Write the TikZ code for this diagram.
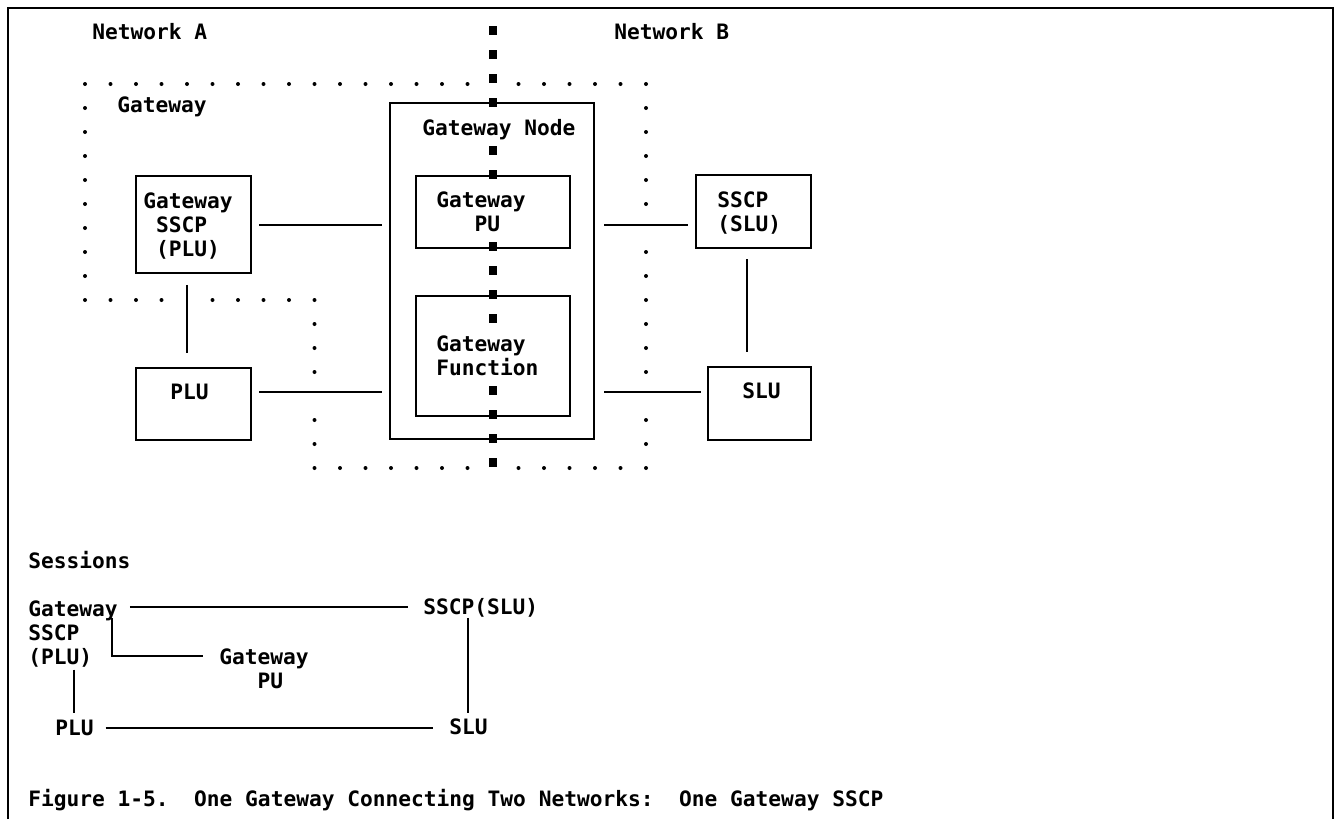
\documentclass[tikz,border=0pt]{standalone}
\usepackage{fontspec}
\setmainfont{DejaVu Sans Mono}
\usepackage{tikz}
\usetikzlibrary{positioning,fit}
\frenchspacing

\begin{document}
\begin{tikzpicture}[x=0.75pt,y=-0.75pt, every node/.style={font=\bfseries\fontsize{15.9}{18}\selectfont,inner sep=0pt},
    box/.style={draw,line width=1.8pt},
    lbl/.style={anchor=west,text height=11.25pt,text depth=0pt},
    blk/.style={anchor=north west,align=left},
    conn/.style={line width=1.5pt,shorten <=5.25pt,shorten >=5.25pt}]
    \useasboundingbox (0,0) rectangle (1340,819);
    \draw[line width=1.8pt] (8,819) -- (8,8) -- (1333,8) -- (1333,819);
    \foreach \n in {0,...,22} {\ifnum\n=16 \else \fill (85+25.5*\n,84) circle (1.5pt);\fi}
    \foreach \k in {1,...,9} \fill (85,84+24*\k) circle (1.5pt);
    \foreach \n in {1,...,9} {\ifnum\n=4 \else \fill (85+25.5*\n,300) circle (1.5pt);\fi}
    \foreach \k in {1,...,7} {\ifnum\k=4 \else \fill (314.5,300+24*\k) circle (1.5pt);\fi}
    \foreach \n in {10,...,22} {\ifnum\n=16 \else \fill (85+25.5*\n,468) circle (1.5pt);\fi}
    \foreach \k in {1,...,15} {\ifnum\k=6 \else \ifnum\k=13 \else \fill (646,84+24*\k) circle (1.5pt);\fi\fi}
    \foreach \y in {30,54,78,102,150,174,246,270,294,318,390,414,438,462} \fill (489,\y-4.5) rectangle ++(8,9);
    \node[lbl] (netA) at (92,32) {Network A};
    \node[lbl] (netB) at (614,32) {Network B};
    \node[lbl] (gwlbl) at (117,105) {Gateway};
    \node[lbl] (nodelbl) at (422,128) {Gateway Node};
    \node[box,fit={(136,176) (251,273)}] (sscpA) {};
    \node[box,fit={(136,368) (251,440)}] (pluA) {};
    \node[box,fit={(390,103) (594,439)}] (gwnode) {};
    \node[box,fit={(416,176) (570,248)}] (gwpu) {};
    \node[box,fit={(416,296) (570,416)}] (gwfn) {};
    \node[box,fit={(696,175) (811,248)}] (sscpB) {};
    \node[box,fit={(708,367) (811,440)}] (sluB) {};
    \node[blk] (sscpAtxt) at (143,192.5) {Gateway\\\hphantom{G}SSCP\\\hphantom{G}(PLU)};
    \node[lbl] (plutxt) at (170,392) {PLU};
    \node[blk] (gwputxt) at (436,191.5) {Gateway\\\hphantom{GGG}PU};
    \node[blk] (gwfntxt) at (436,335.5) {Gateway\\Function};
    \node[blk] (sscpBtxt) at (717,191.5) {SSCP\\(SLU)};
    \node[lbl] (slutxt) at (742,391) {SLU};
    \draw[conn] (sscpA.east) -- (sscpA.east -| gwnode.west);
    \draw[conn] (plutxt -| pluA.east) -- (plutxt -| gwnode.west);
    \draw[conn,shorten <=6.75pt] (sscpA.east -| gwnode.east) -- (sscpA.east -| sscpB.west);
    \draw[conn,shorten <=6.75pt,shorten >=4.5pt] (plutxt -| gwnode.east) -- (plutxt -| sluB.west);
    \draw[conn,shorten <=8pt,shorten >=10.5pt] ([xshift=-4.9pt]sscpA.south) -- ([xshift=-4.9pt]pluA.north);
    \draw[conn,shorten <=7.5pt,shorten >=10.5pt] ([xshift=-4.9pt]sscpB.south) -- ([xshift=-4.9pt]sscpB.south |- sluB.north);
    \node[lbl] (seslbl) at (28,561) {Sessions};
    \node[blk] (sgw) at (28,600.5) {Gateway\\SSCP\\(PLU)};
    \node[lbl] (ssscp) at (423,607) {SSCP(SLU)};
    \node[blk] (spu) at (219,648.5) {Gateway\\\hphantom{GGG}PU};
    \node[lbl] (splu) at (55,728) {PLU};
    \node[lbl] (sslu) at (449,727) {SLU};
    \draw[conn,shorten <=9pt,shorten >=11.25pt] (sgw.east |- ssscp.west) -- (ssscp.west);
    \draw[conn,shorten <=0pt,shorten >=12pt] ([xshift=-4.6pt,yshift=-13pt]sgw.north east) |- ([yshift=-5.6pt]spu.north west);
    \draw[conn,shorten <=1.5pt,shorten >=5.6pt] (splu.north |- sgw.south) -- (splu.north);
    \draw[conn,shorten <=2.6pt,shorten >=4.9pt] (ssscp.south -| sslu.north) -- (sslu.north);
    \draw[conn,shorten <=8.8pt,shorten >=12pt] (splu.east) -- (splu.east -| sslu.west);
    \node[lbl] (caption) at (28,799) {Figure 1-5.\ \ One Gateway Connecting Two Networks:\ \ One Gateway SSCP};
\end{tikzpicture}
\end{document}
